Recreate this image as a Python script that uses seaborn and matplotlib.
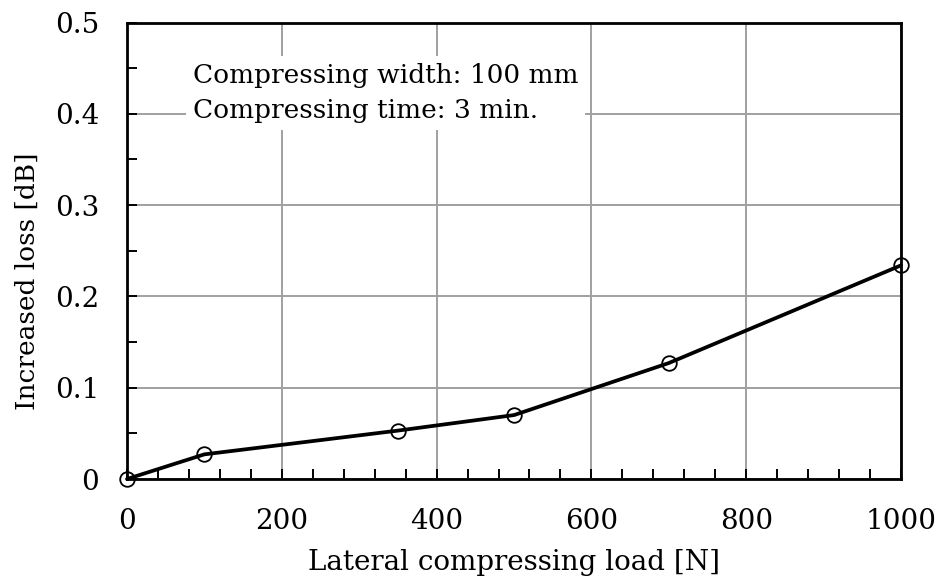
import matplotlib
matplotlib.use("Agg")
import matplotlib.pyplot as plt
import seaborn as sns
import pandas as pd
from matplotlib.ticker import MultipleLocator

load = [0, 100, 350, 500, 700, 1000]
loss = [0.0, 0.027, 0.053, 0.070, 0.127, 0.234]
xticks = [0, 200, 400, 600, 800, 1000]
yticks = [0, 0.1, 0.2, 0.3, 0.4, 0.5]
ylabels = ["0", "0.1", "0.2", "0.3", "0.4", "0.5"]

sns.set_theme(style="white")
plt.rcParams['font.family'] = ['DejaVu Serif']
plt.rcParams['text.color'] = 'black'
plt.rcParams['axes.labelcolor'] = 'black'
plt.rcParams['xtick.color'] = 'black'
plt.rcParams['ytick.color'] = 'black'

FS = 20
df = pd.DataFrame({"load": load, "loss": loss})
fig = plt.figure(figsize=(9.36, 5.77), dpi=100)
ax = fig.add_axes([127/936, 1-479/577, (901-127)/936, (479-22.5)/577])

ax.grid(True, color="#a0a0a0", linewidth=1.4, zorder=0)
sns.lineplot(data=df, x="load", y="loss", ax=ax, color="black", linewidth=2.7,
             marker="o", markersize=10.5, markerfacecolor="none",
             markeredgecolor="black", markeredgewidth=1.3, zorder=3, clip_on=False)

ax.set_xlim(0, 1000)
ax.set_ylim(0, 0.5)
ax.set_xticks(xticks)
ax.set_yticks(yticks)
ax.set_yticklabels(ylabels)
ax.xaxis.set_minor_locator(MultipleLocator(40))
ax.yaxis.set_minor_locator(MultipleLocator(0.05))
ax.tick_params(axis="both", which="both", direction="in", bottom=True, left=True,
               top=False, right=False, labelsize=FS, color="black", width=1.4)
ax.tick_params(axis="both", which="major", length=7)
ax.tick_params(axis="x", which="major", pad=21)
ax.tick_params(axis="y", which="major", pad=20)
ax.tick_params(axis="both", which="minor", length=7)
for s in ax.spines.values():
    s.set_color("black")
    s.set_linewidth(2.0)

ax.set_xlabel("Lateral compressing load [N]", fontsize=FS, labelpad=10)
ax.set_ylabel("Increased loss [dB]", fontsize=19, labelpad=11, y=0.434)

ax.text(0.085, 0.912, "Compressing width: 100 mm\nCompressing time: 3 min.",
        transform=ax.transAxes, fontsize=19, va="top", ha="left", linespacing=1.5,
        bbox=dict(facecolor="white", edgecolor="none", pad=5), zorder=4)

fig.savefig("out.png", dpi=100)
